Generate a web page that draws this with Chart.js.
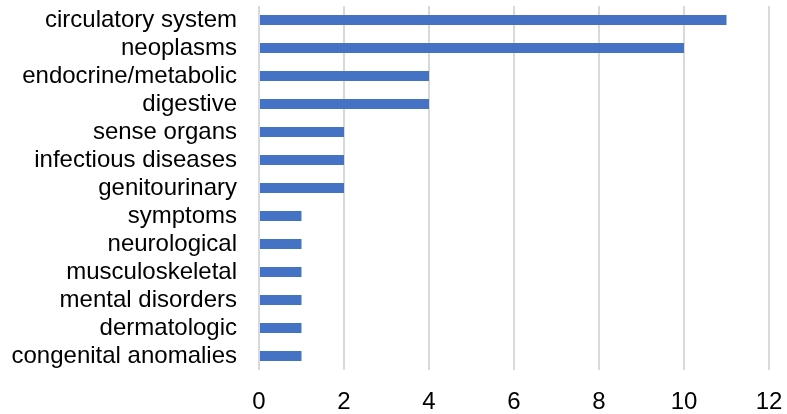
<!DOCTYPE html>
<html>
<head>
<meta charset="utf-8">
<script src="https://cdn.jsdelivr.net/npm/chart.js@4/dist/chart.umd.min.js"></script>
<style>
  html, body { margin: 0; padding: 0; background: #fff; }
  #wrap { width: 787px; height: 414px; }
</style>
</head>
<body>
<div id="wrap"><canvas id="chart" width="787" height="414"></canvas></div>
<script>
// categories and counts, top to bottom as shown
const categories = [
  'circulatory system', 'neoplasms', 'endocrine/metabolic', 'digestive',
  'sense organs', 'infectious diseases', 'genitourinary', 'symptoms',
  'neurological', 'musculoskeletal', 'mental disorders', 'dermatologic',
  'congenital anomalies'
];
const counts = [11, 10, 4, 4, 2, 2, 2, 1, 1, 1, 1, 1, 1];
const xTicks = [0, 2, 4, 6, 8, 10, 12];

const font = { family: '"Liberation Sans", Arial, sans-serif', size: 24 };

new Chart(document.getElementById('chart').getContext('2d'), {
  type: 'bar',
  data: {
    labels: categories,
    datasets: [{
      data: counts,
      backgroundColor: '#4472C4',
      borderWidth: 0,
      categoryPercentage: 1,
      barPercentage: 0.36
    }]
  },
  options: {
    indexAxis: 'y',
    responsive: false,
    animation: false,
    layout: { padding: { top: 6, right: 18, bottom: 0, left: 0 } },
    plugins: { legend: { display: false }, tooltip: { enabled: false } },
    scales: {
      x: {
        min: 0,
        max: 12,
        afterBuildTicks: (scale) => { scale.ticks = xTicks.map(v => ({ value: v })); },
        grid: { color: '#d9d9d9', lineWidth: 2, drawTicks: false },
        border: { display: false },
        ticks: { color: '#000', font: font, padding: 18, maxRotation: 0 },
        afterFit: (scale) => {
          scale.height = 44;
          scale.paddingLeft = 0;
          scale.paddingRight = 0;
        }
      },
      y: {
        grid: { display: false, drawTicks: false },
        border: { display: false },
        ticks: { color: '#000', font: font, padding: 22, autoSkip: false },
        afterFit: (scale) => {
          scale.width = 259;
          scale.paddingTop = 0;
          scale.paddingBottom = 0;
        }
      }
    }
  }
});
</script>
</body>
</html>
